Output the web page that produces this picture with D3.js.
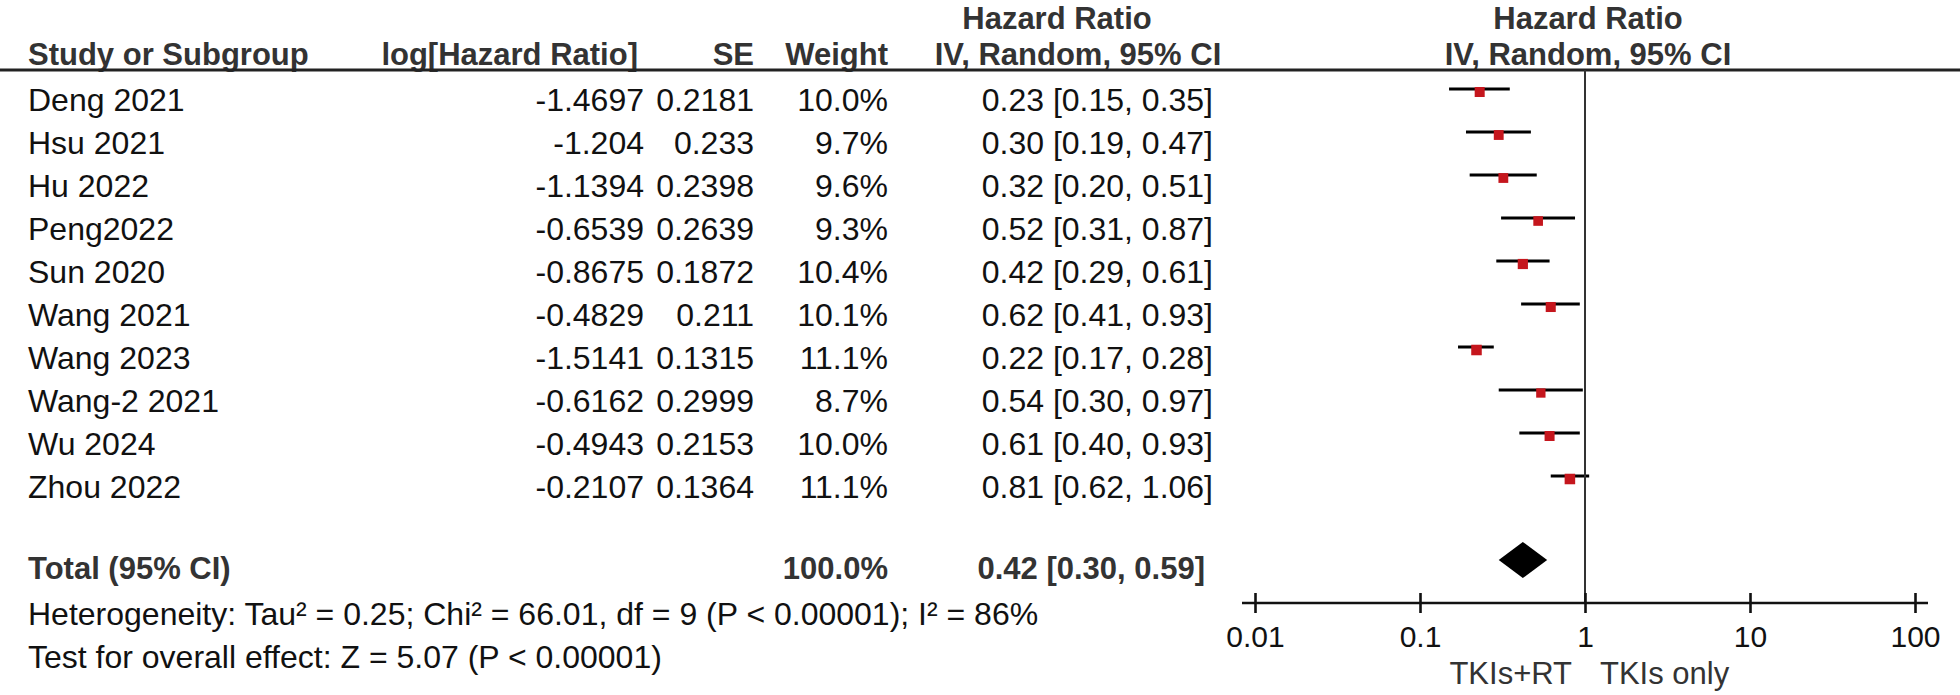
<!DOCTYPE html>
<html>
<head>
<meta charset="utf-8">
<script src="https://cdn.jsdelivr.net/npm/d3@7"></script>
<style>
  body { margin: 0; background: #fff; }
  svg { display: block; font-family: "Liberation Sans", Arial, sans-serif; }
</style>
</head>
<body>
<div id="chart"></div>
<script>
// ---- data ----
const studies = ["Deng 2021", "Hsu 2021", "Hu 2022", "Peng2022", "Sun 2020",
                 "Wang 2021", "Wang 2023", "Wang-2 2021", "Wu 2024", "Zhou 2022"];
const logHR   = ["-1.4697", "-1.204", "-1.1394", "-0.6539", "-0.8675",
                 "-0.4829", "-1.5141", "-0.6162", "-0.4943", "-0.2107"];
const se      = ["0.2181", "0.233", "0.2398", "0.2639", "0.1872",
                 "0.211", "0.1315", "0.2999", "0.2153", "0.1364"];
const weights = [10.0, 9.7, 9.6, 9.3, 10.4, 10.1, 11.1, 8.7, 10.0, 11.1];
const hr      = [0.23, 0.30, 0.32, 0.52, 0.42, 0.62, 0.22, 0.54, 0.61, 0.81];
const ciLo    = [0.15, 0.19, 0.20, 0.31, 0.29, 0.41, 0.17, 0.30, 0.40, 0.62];
const ciHi    = [0.35, 0.47, 0.51, 0.87, 0.61, 0.93, 0.28, 0.97, 0.93, 1.06];
const total   = { hr: 0.42, lo: 0.30, hi: 0.59, weight: 100.0 };
const axisTicks = [0.01, 0.1, 1, 10, 100];
const favours = ["TKIs+RT", "TKIs only"];
const heterogeneity = "Heterogeneity: Tau\u00b2 = 0.25; Chi\u00b2 = 66.01, df = 9 (P < 0.00001); I\u00b2 = 86%";
const overall = "Test for overall effect: Z = 5.07 (P < 0.00001)";

const rows = studies.map((s, i) => ({
  study: s, logHR: logHR[i], se: se[i], weight: weights[i],
  hr: hr[i], lo: ciLo[i], hi: ciHi[i]
}));

// ---- layout ----
const W = 1960, H = 695;
const fs = 32, fsBold = 31;
const ink = "#111", head = "#333", red = "#c5161d";
const f2 = d3.format(".2f");
const ciText = d => `${f2(d.hr)} [${f2(d.lo)}, ${f2(d.hi)}]`;

const svg = d3.select("#chart").append("svg")
  .attr("width", W).attr("height", H)
  .style("background", "#fff");

const col = { study: 28, logHR: 644, se: 754, weight: 888, ci: 1213 };

// row centres
const y = d3.scalePoint().domain(d3.range(rows.length)).range([100, 487]);
const x = d3.scaleLog().domain([0.01, 100]).range([1255, 1915]);
const box = d3.scaleSqrt().domain([0, 10]).range([0, 10]);

const txt = (xx, yy, s, anchor, bold, color) => svg.append("text")
  .attr("x", xx).attr("y", yy)
  .attr("text-anchor", anchor || "start")
  .attr("font-size", bold ? fsBold : fs)
  .attr("font-weight", bold ? "bold" : "normal")
  .attr("fill", color || ink)
  .text(s);

// headers
txt(1057, 29, "Hazard Ratio", "middle", true, head);
txt(1588, 29, "Hazard Ratio", "middle", true, head);
txt(col.study, 65, "Study or Subgroup", "start", true, head);
txt(638, 65, "log[Hazard Ratio]", "end", true, head);
txt(col.se, 65, "SE", "end", true, head);
txt(col.weight, 65, "Weight", "end", true, head);
txt(1078, 65, "IV, Random, 95% CI", "middle", true, head);
txt(1588, 65, "IV, Random, 95% CI", "middle", true, head);

svg.append("line")
  .attr("x1", 0).attr("x2", W).attr("y1", 70).attr("y2", 70)
  .attr("stroke", "#222").attr("stroke-width", 3);

// study rows
const g = svg.append("g");
const r = g.selectAll("g.row").data(rows).enter().append("g").attr("class", "row");
const base = (d, i) => y(i) + 11;
r.append("text").attr("x", col.study).attr("y", base).text(d => d.study);
r.append("text").attr("x", col.logHR).attr("y", base).attr("text-anchor", "end").text(d => d.logHR);
r.append("text").attr("x", col.se).attr("y", base).attr("text-anchor", "end").text(d => d.se);
r.append("text").attr("x", col.weight).attr("y", base).attr("text-anchor", "end").text(d => d.weight.toFixed(1) + "%");
r.append("text").attr("x", col.ci).attr("y", base).attr("text-anchor", "end").text(ciText);
r.selectAll("text").attr("font-size", fs).attr("fill", ink);

// vertical line of no effect
svg.append("line")
  .attr("x1", x(1)).attr("x2", x(1)).attr("y1", 70).attr("y2", 603)
  .attr("stroke", "#333").attr("stroke-width", 2);

// CI lines + squares
r.append("line")
  .attr("x1", d => x(d.lo)).attr("x2", d => x(d.hi))
  .attr("y1", (d, i) => y(i) - 11).attr("y2", (d, i) => y(i) - 11)
  .attr("stroke", "#000").attr("stroke-width", 2.8);
r.append("rect")
  .attr("x", d => x(d.hr) - box(d.weight) / 2)
  .attr("y", (d, i) => y(i) - 8 - box(d.weight) / 2)
  .attr("width", d => box(d.weight))
  .attr("height", d => box(d.weight))
  .attr("fill", red);

// total
const yTot = 568;
txt(col.study, yTot + 11, "Total (95% CI)", "start", true, head);
txt(col.weight, yTot + 11, total.weight.toFixed(1) + "%", "end", true, head);
txt(1205, yTot + 11, ciText(total), "end", true, head);

const dy = yTot - 8, dh = 18;
svg.append("path")
  .datum(total)
  .attr("d", d => `M${x(d.lo)},${dy} L${x(d.hr)},${dy - dh} L${x(d.hi)},${dy} L${x(d.hr)},${dy + dh} Z`)
  .attr("fill", "#000");

txt(col.study, 625, heterogeneity);
txt(col.study, 668, overall);

// axis
svg.append("line")
  .attr("x1", 1242).attr("x2", 1928).attr("y1", 603).attr("y2", 603)
  .attr("stroke", "#111").attr("stroke-width", 2.6);

const ax = svg.append("g")
  .attr("transform", "translate(0,593)")
  .call(d3.axisBottom(x).tickValues(axisTicks).tickFormat(d => String(d))
    .tickSizeInner(20).tickSizeOuter(0).tickPadding(13));
ax.select(".domain").remove();
ax.selectAll(".tick line").attr("stroke", "#111").attr("stroke-width", 2.6);
ax.selectAll(".tick text")
  .attr("font-size", 30).attr("fill", ink)
  .attr("font-family", "Liberation Sans, Arial, sans-serif");

txt(x(1) - 13, 684, favours[0], "end", false, head).attr("font-size", 31);
txt(x(1) + 15, 684, favours[1], "start", false, head).attr("font-size", 31);
</script>
</body>
</html>
